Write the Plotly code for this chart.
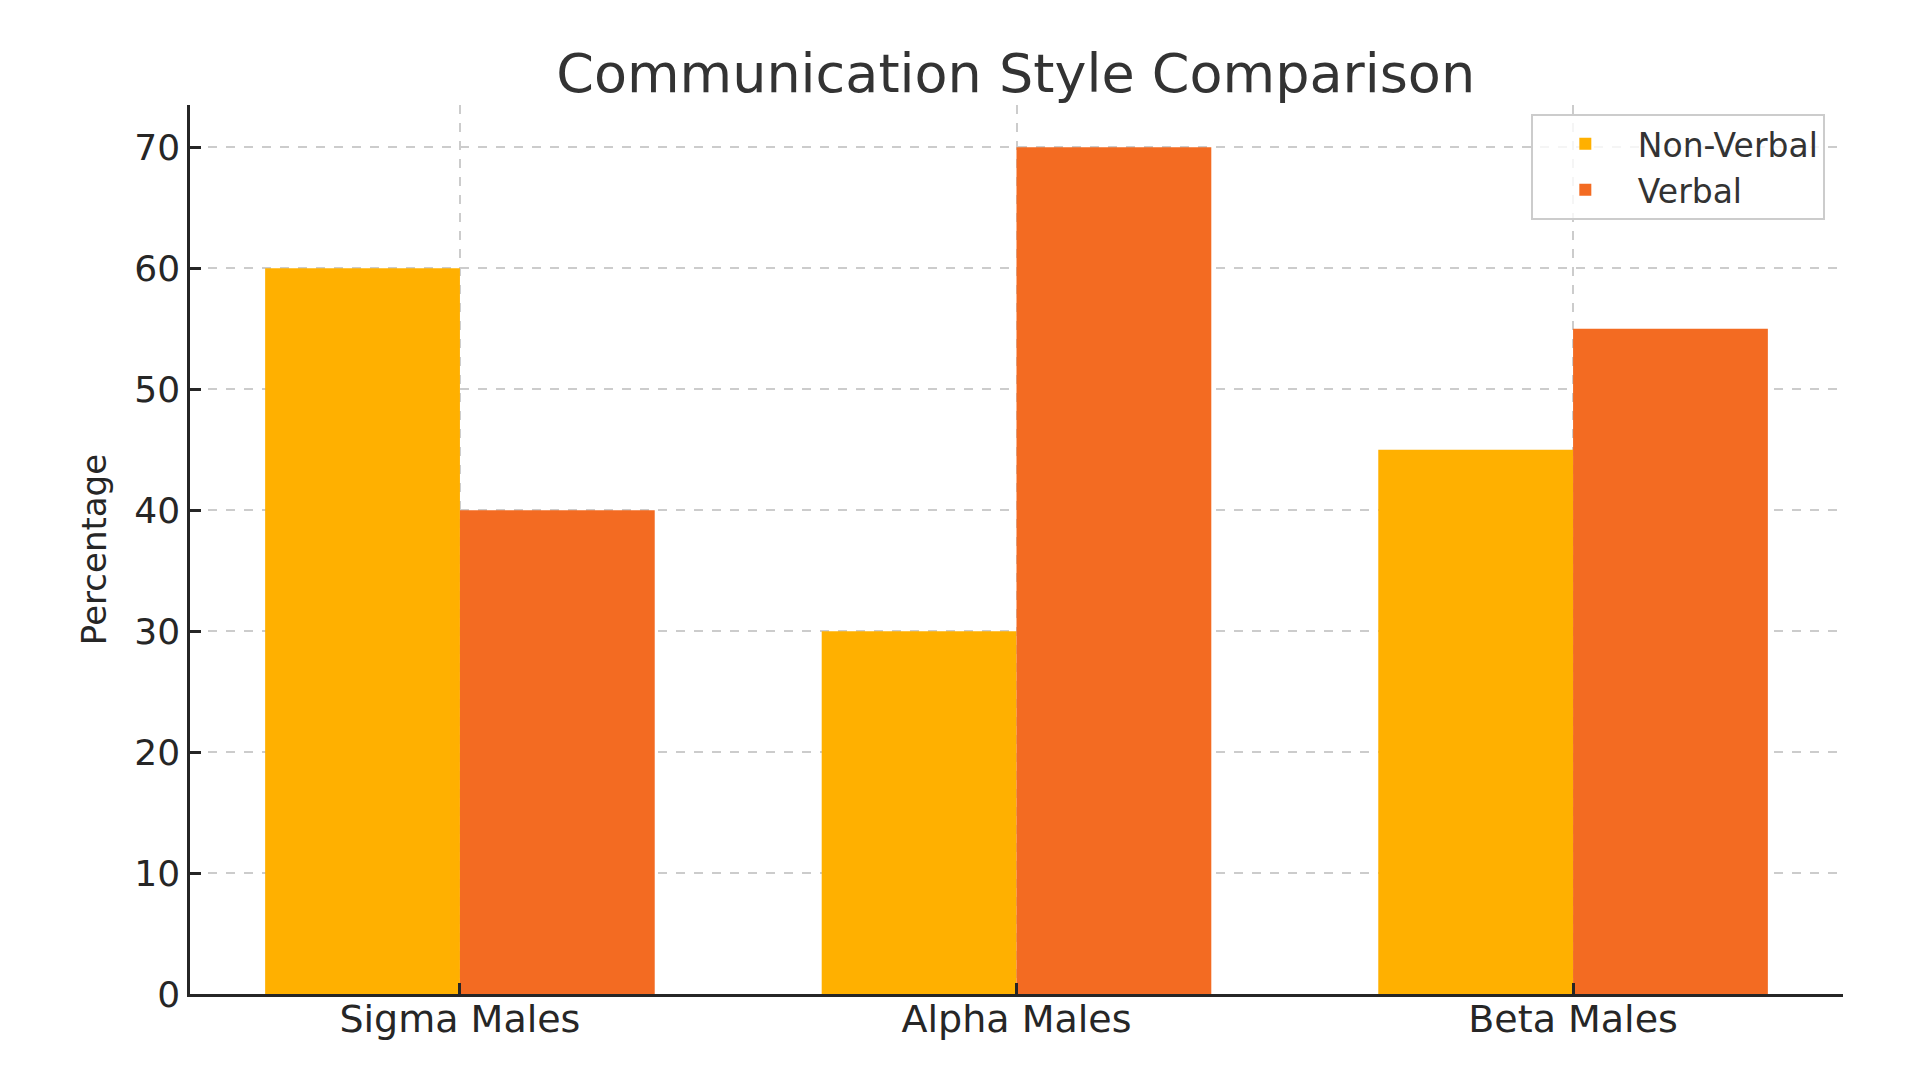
import plotly.graph_objects as go

categories = ["Sigma Males", "Alpha Males", "Beta Males"]
non_verbal = [60, 30, 45]
verbal = [40, 70, 55]
y_ticks = [0, 10, 20, 30, 40, 50, 60, 70]

FONT = "DejaVu Sans"

fig = go.Figure()
fig.add_trace(go.Bar(x=categories, y=non_verbal, name="Non-Verbal",
                     marker=dict(color="#FFB000", line=dict(width=0))))
fig.add_trace(go.Bar(x=categories, y=verbal, name="Verbal",
                     marker=dict(color="#F36B22", line=dict(width=0))))

fig.update_layout(
    width=1920, height=1080,
    paper_bgcolor="white", plot_bgcolor="white",
    barmode="group", bargap=0.3, bargroupgap=0,
    margin=dict(l=190, r=77, t=105, b=86),
    font=dict(family=FONT, color="#262626"),
    title=dict(text="Communication Style Comparison", x=0.529, xanchor="center",
               y=1 - 73 / 1080, yanchor="middle", yref="container",
               font=dict(size=54, color="#333333", family=FONT)),
    legend=dict(x=0.989, xanchor="right", y=0.99, yanchor="top",
                bgcolor="rgba(255,255,255,0.8)", bordercolor="#cccccc", borderwidth=2,
                font=dict(size=33, color="#333333"), traceorder="normal",
                itemwidth=95, tracegroupgap=0),
    showlegend=True,
)
fig.update_xaxes(
    range=[-0.485, 2.485], showline=True, linecolor="#262626", linewidth=2.5,
    ticks="inside", ticklen=11, tickwidth=2.5, tickcolor="#262626",
    tickfont=dict(size=38, color="#262626"), ticklabelstandoff=-10,
    showgrid=True, gridcolor="#cccccc", gridwidth=1.5, griddash="dash",
    mirror=False, zeroline=False,
)
fig.update_yaxes(
    range=[0, 73.5], tickvals=y_ticks, showline=True, linecolor="#262626", linewidth=2.5,
    ticks="inside", ticklen=11, tickwidth=2.5, tickcolor="#262626",
    tickfont=dict(size=36, color="#262626"),
    showgrid=True, gridcolor="#cccccc", gridwidth=1.5, griddash="dash",
    zeroline=False,
    title=dict(text="Percentage", font=dict(size=34, color="#262626"), standoff=18),
)

fig.write_html("out.html")
